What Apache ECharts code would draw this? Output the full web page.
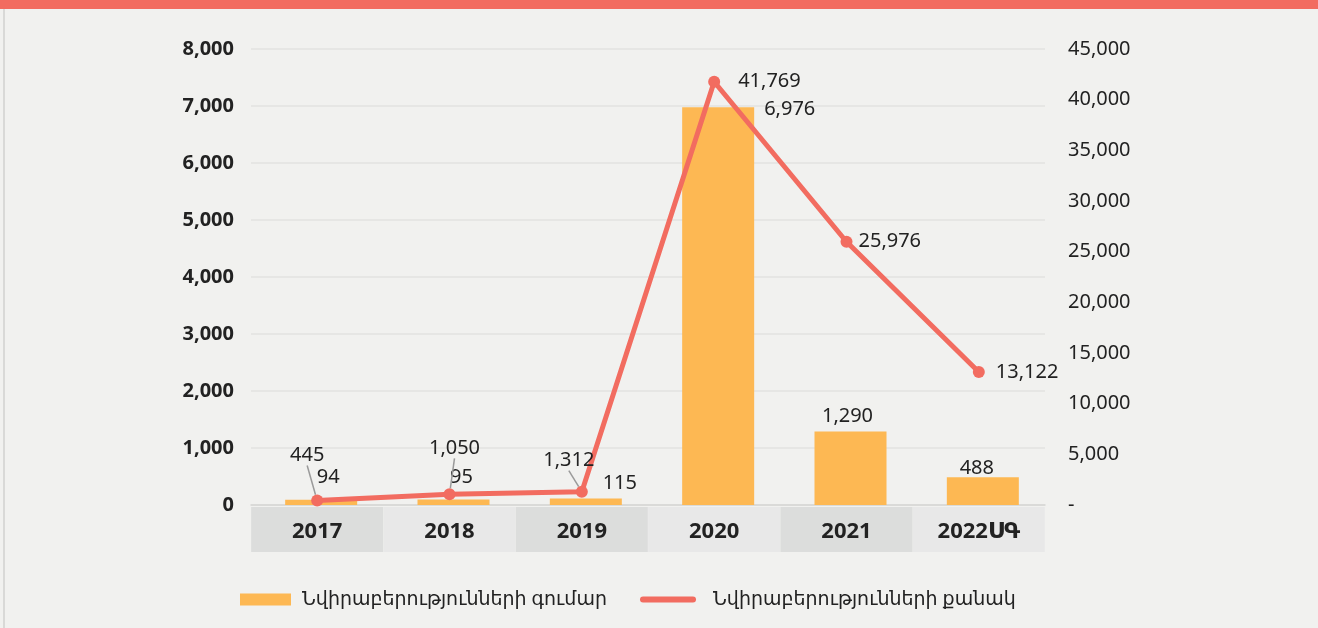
<!DOCTYPE html>
<html>
<head>
<meta charset="utf-8">
<script src="https://cdn.jsdelivr.net/npm/echarts@6/dist/echarts.min.js"></script>
<style>
html,body{margin:0;padding:0;background:#f1f1ef;}
#chart{width:1318px;height:628px;}
</style>
</head>
<body>
<div id="chart"></div>
<script>
const categories = ['2017', '2018', '2019', '2020', '2021', '2022ՍԳ'];
const donationSum = [94, 95, 115, 6976, 1290, 488];
const donationCount = [445, 1050, 1312, 41769, 25976, 13122];
const seriesNames = ['Նվիրաբերությունների գումար', 'Նվիրաբերությունների քանակ'];
const leftTicks = { min: 0, max: 8000, interval: 1000 };
const rightTicks = { min: 0, max: 45000, interval: 5000 };

const FONT = '"Noto Sans", "Open Sans", "DejaVu Sans", sans-serif';
const TXT = '#222222';
const fmt = v => v.toLocaleString('en-US');

// label tweaks (styling only)
const barLabelCfg = [
  { position: 'top', offset: [7, -7] },
  { position: 'top', offset: [8, -7] },
  { position: 'top', offset: [34, 0] },
  { position: [82, 2], align: 'left', verticalAlign: 'middle' },
  { position: 'top', offset: [-3, 0] },
  { position: 'top', offset: [-6, 6] }
];
const lineLabelCfg = [
  { position: 'top' },
  { position: 'top' },
  { position: 'top' },
  { position: 'right', distance: 18, offset: [0, -5] },
  { position: 'right', distance: 6, offset: [0, -9] },
  { position: 'right', distance: 11, offset: [0, -2] }
];
const lineLabelMove = [[-10, -24], [5, -25], [-13, -10]];

const chart = echarts.init(document.getElementById('chart'), null, { renderer: 'canvas' });

const boxColors = ['#dcdddc', '#e8e8e8'];
const boxStyle = c => ({
  backgroundColor: c, width: 132, height: 41, lineHeight: 41, padding: [4, 0, 0, 0], align: 'center',
  fontSize: 22, fontWeight: 'bold', color: TXT, fontFamily: FONT
});
const rich = { d: boxStyle(boxColors[0]), l: boxStyle(boxColors[1]) };

const legendText = pad => ({ fontSize: 19, color: TXT, fontFamily: FONT, padding: [0, 0, 0, pad] });

const option = {
  backgroundColor: '#f1f1ef',
  animation: false,
  textStyle: { fontFamily: FONT },
  graphic: [
    { type: 'rect', left: 0, top: 0, shape: { width: 1318, height: 9 }, style: { fill: '#f26c60' }, silent: true },
    { type: 'rect', left: 3, top: 9, shape: { width: 2, height: 619 }, style: { fill: '#d9d9d7' }, silent: true }
  ],
  legend: [
    {
      top: 590, left: 240, padding: 0,
      itemWidth: 51, itemHeight: 12,
      textStyle: legendText(6),
      data: [{ name: seriesNames[0], icon: 'rect' }]
    },
    {
      top: 590, left: 640, padding: 0,
      itemWidth: 56, itemHeight: 6,
      textStyle: legendText(12),
      data: [{ name: seriesNames[1], icon: 'path://M3,0 L53,0 A3,3 0 0 1 53,6 L3,6 A3,3 0 0 1 3,0 Z' }]
    }
  ],
  grid: [
    { left: 251, right: 273, top: 49, bottom: 123 },
    { left: 255, right: 269, top: 49, bottom: 123 }
  ],
  xAxis: [
    {
      type: 'category', gridIndex: 0, data: categories,
      axisLine: { show: true, lineStyle: { color: '#d6d6d4', width: 1.5 } },
      axisTick: { show: false },
      axisLabel: {
        margin: 4, interval: 0,
        formatter: (v, i) => (i % 2 === 0 ? '{d|' : '{l|') + v + '}',
        rich: rich
      }
    },
    { type: 'category', gridIndex: 1, data: categories, show: false }
  ],
  yAxis: [
    {
      type: 'value', gridIndex: 0, position: 'left',
      min: leftTicks.min, max: leftTicks.max, interval: leftTicks.interval,
      axisLine: { show: false }, axisTick: { show: false },
      axisLabel: { margin: 17, fontSize: 20, fontWeight: 'bold', color: TXT, fontFamily: FONT, formatter: v => fmt(v) },
      splitLine: { show: true, lineStyle: { color: '#e6e6e4', width: 2 } }
    },
    {
      type: 'value', gridIndex: 0, position: 'right',
      min: rightTicks.min, max: rightTicks.max, interval: rightTicks.interval,
      axisLine: { show: false }, axisTick: { show: false },
      axisLabel: { margin: 23, fontSize: 20, color: TXT, fontFamily: FONT, formatter: v => (v === 0 ? '-' : fmt(v)) },
      splitLine: { show: false }
    },
    {
      type: 'value', gridIndex: 1, min: leftTicks.min, max: leftTicks.max, interval: leftTicks.interval, show: false,
      splitLine: { show: false }
    }
  ],
  series: [
    {
      name: seriesNames[0],
      type: 'bar',
      xAxisIndex: 1, yAxisIndex: 2,
      barWidth: 72,
      z: 2,
      itemStyle: { color: '#fdb853' },
      label: { show: true, fontSize: 20, color: TXT, fontFamily: FONT, formatter: p => fmt(p.value) },
      data: donationSum.map((v, i) => ({ value: v, label: barLabelCfg[i] }))
    },
    {
      name: seriesNames[1],
      type: 'line',
      xAxisIndex: 0, yAxisIndex: 1,
      z: 5,
      symbol: 'circle',
      symbolSize: 12,
      itemStyle: { color: '#f26c60' },
      lineStyle: { color: '#f26c60', width: 5 },
      label: { show: true, fontSize: 20, color: TXT, fontFamily: FONT, formatter: p => fmt(p.value) },
      labelLine: { show: true, lineStyle: { color: '#9a9a9a', width: 1.5 } },
      labelLayout: function (params) {
        const m = lineLabelMove[params.dataIndex];
        if (m) return { dx: m[0], dy: m[1] };
        return {};
      },
      data: donationCount.map((v, i) => ({
        value: v,
        label: lineLabelCfg[i],
        labelLine: { show: i < lineLabelMove.length }
      }))
    }
  ]
};
chart.setOption(option);
</script>
</body>
</html>
